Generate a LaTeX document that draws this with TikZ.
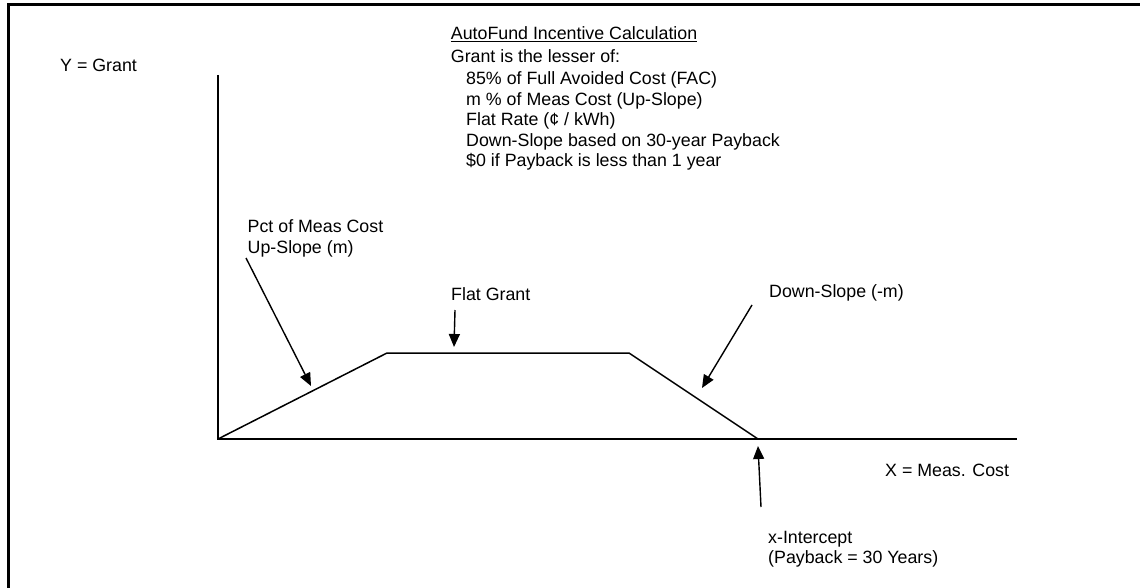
\documentclass[tikz,border=0pt]{standalone}
\usepackage{fontspec}
\setmainfont{Liberation Sans}
\usetikzlibrary{arrows.meta}
\begin{document}
\begin{tikzpicture}[x=1pt,y=-1pt,
  lbl/.style={anchor=base west, inner sep=0pt, font=\fontsize{17.8}{20.5}\selectfont},
  curve/.style={line width=1.5pt},
  pointer/.style={line width=1.4pt, -{Triangle[length=13pt,width=11pt]}}]
\useasboundingbox (0,0) rectangle (1140,588);
\draw[line width=2.8pt] (8.7,600) -- (8.7,4.7) -- (1150,4.7);
% axes and grant curve
\coordinate (O) at (218,439);
\coordinate (Ytop) at (218,75);
\coordinate (Xend) at (1017,439);
\coordinate (A) at (387,353);
\coordinate (B) at (629,353);
\coordinate (C) at (758,439);
\draw[curve] (Ytop) -- (O) -- (Xend);
\draw[curve] (O) -- (A) -- (B) -- (C);
% texts
\node[lbl] (ylab) at (60,72) {Y = Grant};
\node[lbl] (title) at (450.7,40) {\underline{AutoFund Incentive Calculation}};
\node[lbl] (l1) at (450.7,63) {Grant is the lesser of:};
\node[lbl] (l2) at (466,85) {85\% of Full Avoided Cost (FAC)};
\node[lbl] (l3) at (466,105.5) {m \% of Meas Cost (Up-Slope)};
\node[lbl] (l4) at (466,126) {Flat Rate (¢ / kWh)};
\node[lbl] (l5) at (466,146.3) {Down-Slope based on 30-year Payback};
\node[lbl] (l6) at (466,166.5) {\$0 if Payback is less than 1 year};
\node[lbl] (pct) at (247.5,233) {Pct of Meas Cost};
\node[lbl] (ups) at (247.5,253) {Up-Slope (m)};
\node[lbl] (flat) at (451,300) {Flat Grant};
\node[lbl] (down) at (769,297) {Down-Slope (-m)};
\node[lbl] (xlab) at (885,476) {X = Meas. Cost};
\node[lbl] (xint) at (768,543) {x-Intercept};
\node[lbl] (payb) at (768,563) {(Payback = 30 Years)};
% pointers
\coordinate (a1s) at (246,258);
\coordinate (a1e) at (311,386);
\coordinate (a2s) at (455,310);
\coordinate (a2e) at (454,347);
\coordinate (a3s) at (752,305);
\coordinate (a3e) at (702,388);
\coordinate (a4s) at (761,507);
\coordinate (a4e) at (758,446);
\draw[pointer] (a1s) -- (a1e);
\draw[pointer] (a2s) -- (a2e);
\draw[pointer] (a3s) -- (a3e);
\draw[pointer] (a4s) -- (a4e);
\end{tikzpicture}
\end{document}
